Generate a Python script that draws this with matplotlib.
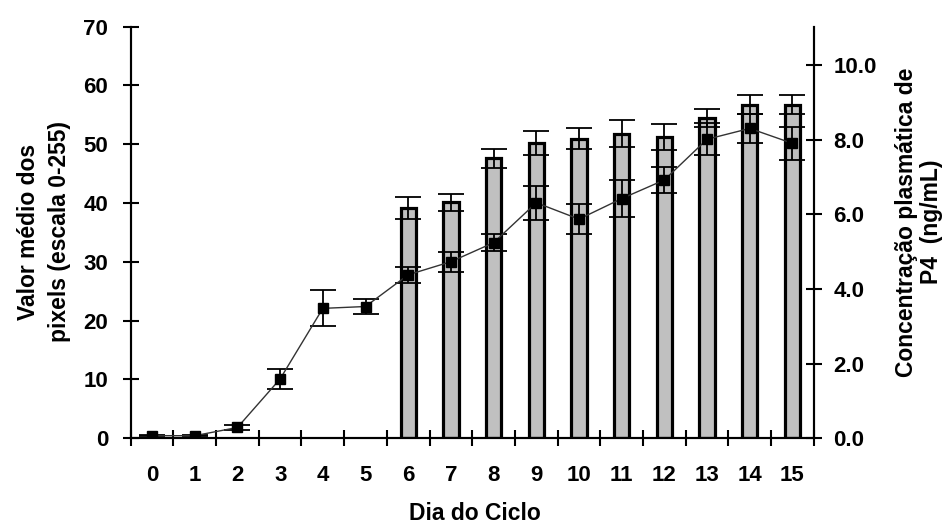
import matplotlib
matplotlib.use("Agg")
import matplotlib.pyplot as plt
import numpy as np
from matplotlib.ticker import FormatStrFormatter

days = list(range(16))
bar_days = [6, 7, 8, 9, 10, 11, 12, 13, 14, 15]
pixel_mean = [39.2, 40.1, 47.6, 50.2, 50.9, 51.8, 51.2, 54.5, 56.7, 56.7]
pixel_err = [1.9, 1.4, 1.6, 2.0, 1.8, 2.3, 2.2, 1.5, 1.6, 1.6]
p4_mean = [0.07, 0.07, 0.29, 1.59, 3.48, 3.53, 4.38, 4.73, 5.24, 6.31, 5.87, 6.42, 6.92, 8.01, 8.30, 7.90]
p4_err = [0.02, 0.02, 0.06, 0.27, 0.48, 0.19, 0.22, 0.27, 0.22, 0.45, 0.40, 0.49, 0.35, 0.43, 0.38, 0.45]
left_ticks = [0, 10, 20, 30, 40, 50, 60, 70]
right_ticks = [0, 2, 4, 6, 8, 10]

FONT = ['Liberation Sans', 'DejaVu Sans']
plt.rcParams['font.family'] = FONT
plt.rcParams['font.weight'] = 'bold'

W, H = 952, 528
fig = plt.figure(figsize=(W / 100, H / 100), dpi=100)
x0, x1, y0, y1 = 130.7, 813.8, 438.3, 26.5
ax = fig.add_axes([x0 / W, 1 - y0 / H, (x1 - x0) / W, (y0 - y1) / H])
ax2 = ax.twinx()

ax.bar(bar_days, pixel_mean, width=0.36, color='#c0c0c0', edgecolor='black',
       linewidth=2.3, yerr=pixel_err,
       error_kw=dict(ecolor='black', elinewidth=1.3, capsize=9.5, capthick=1.3),
       zorder=2)

ax2.errorbar(days, p4_mean, yerr=p4_err, color='#333333', linewidth=1.0,
             marker='s', markersize=7.5, markerfacecolor='black', markeredgecolor='black',
             ecolor='black', elinewidth=1.3, capsize=9.5, capthick=1.3, zorder=3)

ax.set_xlim(-0.5, 15.5)
ax.set_ylim(0, 70)
ax2.set_ylim(0, 11.03)

ax.set_yticks(left_ticks)
ax2.set_yticks(right_ticks)
ax2.yaxis.set_major_formatter(FormatStrFormatter('%.1f'))

ax.set_xticks(days)
ax.set_xticks(np.arange(-0.5, 16, 1), minor=True)
ax.tick_params(axis='x', which='major', length=0, pad=19, labelsize=16)
ax.tick_params(axis='x', which='minor', direction='inout', length=11, width=1.5)
ax.tick_params(axis='y', direction='inout', length=11.5, width=1.5, labelsize=16, pad=10.5)
ax2.tick_params(axis='y', direction='inout', length=11.5, width=1.5, labelsize=16, pad=8.3)

for a in (ax, ax2):
    a.spines['top'].set_visible(False)
    for s in ('left', 'right', 'bottom'):
        a.spines[s].set_linewidth(1.5)

fig.text(475 / W, 1 - 520 / H, 'Dia do Ciclo', fontsize=16.5, fontweight='bold',
         ha='center', va='baseline')
fig.text(44 / W, 1 - 232 / H, 'Valor médio dos\npixels (escala 0-255)', fontsize=16.5,
         fontweight='bold', rotation=90, ha='center', va='center',
         multialignment='center', linespacing=1.45)
fig.text(919 / W, 1 - 222 / H, 'Concentração plasmática de\nP4  (ng/mL)', fontsize=16.5,
         fontweight='bold', rotation=90, ha='center', va='center',
         multialignment='center', linespacing=1.15)

fig.savefig('out.png', dpi=100)
